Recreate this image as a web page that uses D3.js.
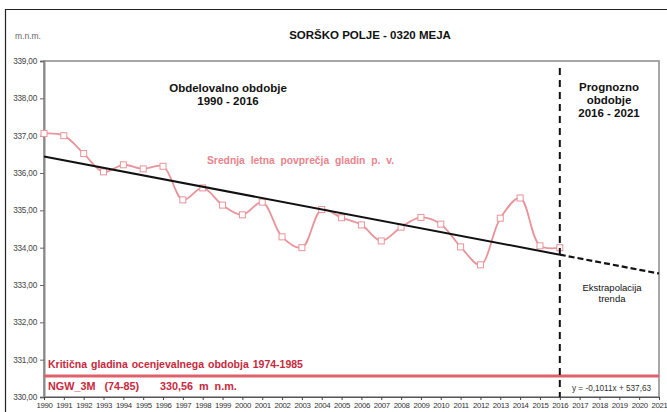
<!DOCTYPE html>
<html><head><meta charset="utf-8">
<script src="https://cdn.jsdelivr.net/npm/d3@7"></script>
<style>
html,body{margin:0;padding:0;background:#fff;}
svg{display:block;font-family:Arial,"Liberation Sans",sans-serif;}
</style></head>
<body>
<svg id="c" width="667" height="412"></svg>
<script>
const years = d3.range(1990, 2017);
const levels = [337.06, 337.00, 336.52, 336.03, 336.22, 336.11, 336.18, 335.28, 335.60, 335.14, 334.88, 335.22, 334.29, 334.00, 335.02, 334.80, 334.61, 334.18, 334.55, 334.81, 334.63, 334.02, 333.54, 334.79, 335.33, 334.05, 334.00];
const yTicks = [330, 331, 332, 333, 334, 335, 336, 337, 338, 339];
const xTickYears = d3.range(1990, 2022);
const trendSlope = -0.1011, trendIntercept = 537.63;
const criticalLevel = 330.56;

const svg = d3.select("#c");
const x = d3.scaleLinear().domain([1990, 2021]).range([44, 659]);
const y = d3.scaleLinear().domain([330, 339]).range([397, 61]);
const fmt = v => d3.format(".2f")(v).replace(".", ",");

// outer frame
svg.append("path").attr("d","M5.5,412 L5.5,9.5 L667,9.5").attr("fill","none").attr("stroke","#222").attr("stroke-width",1.2);

// plot border
svg.append("rect").attr("x",44).attr("y",61).attr("width",615).attr("height",336)
  .attr("fill","none").attr("stroke","#8a8a8a").attr("stroke-width",1.5);

// y axis
const ya = svg.append("g").attr("transform","translate(44,0)")
  .call(d3.axisLeft(y).tickValues(yTicks).tickFormat(fmt).tickSize(4).tickPadding(3));
ya.select(".domain").attr("stroke","#8a8a8a").attr("stroke-width",2);
ya.selectAll(".tick line").attr("stroke","#666");
ya.selectAll("text").attr("font-size",8.2).attr("fill","#444").attr("font-family","Arial, 'Liberation Sans', sans-serif").attr("letter-spacing",-0.2);

// x axis
const xa = svg.append("g").attr("transform","translate(0,397)")
  .call(d3.axisBottom(x).tickValues(xTickYears).tickFormat(d3.format("d")).tickSize(3).tickPadding(2));
xa.select(".domain").attr("stroke","#555").attr("stroke-width",1);
xa.selectAll(".tick line").attr("stroke","#444");
xa.selectAll("text").attr("font-size",7.8).attr("fill","#333").attr("font-family","Arial, 'Liberation Sans', sans-serif").attr("letter-spacing",-0.35);

// critical level
svg.append("line").attr("x1",x(1990)).attr("x2",x(2021)).attr("y1",y(criticalLevel)).attr("y2",y(criticalLevel))
  .attr("stroke","#e0606a").attr("stroke-width",3);
const red = "#c8283c";
svg.append("text").attr("x",48).attr("y",368).attr("font-size",10.5).attr("font-weight","bold").attr("fill",red)
  .attr("word-spacing",1).text("Kritična gladina ocenjevalnega obdobja 1974-1985");
svg.append("text").attr("x",48).attr("y",390).attr("font-size",10.8).attr("font-weight","bold").attr("fill",red)
  .attr("word-spacing",6).text("NGW_3M (74-85)");
svg.append("text").attr("x",160).attr("y",390).attr("font-size",10.8).attr("font-weight","bold").attr("fill",red)
  .attr("word-spacing",3).text("330,56 m n.m.");

// data line
const line = d3.line().x(d => x(d[0])).y(d => y(d[1])).curve(d3.curveCatmullRom.alpha(0.5));
const pts = years.map((yr,i)=>[yr, levels[i]]);
svg.append("path").attr("d", line(pts)).attr("fill","none").attr("stroke","#e8949a").attr("stroke-width",1.8);
svg.selectAll("rect.m").data(pts).enter().append("rect").attr("class","m")
  .attr("x",d=>x(d[0])-3).attr("y",d=>y(d[1])-3).attr("width",6).attr("height",6)
  .attr("fill","#fff").attr("stroke","#e8949a").attr("stroke-width",1);

// trend
const tr = yr => trendSlope*yr + trendIntercept;
svg.append("line").attr("x1",x(1990)).attr("y1",y(tr(1990))).attr("x2",x(2016)).attr("y2",y(tr(2016)))
  .attr("stroke","#111").attr("stroke-width",2);
svg.append("line").attr("x1",x(2016)).attr("y1",y(tr(2016))).attr("x2",x(2021)).attr("y2",y(tr(2021)))
  .attr("stroke","#111").attr("stroke-width",2.2).attr("stroke-dasharray","6,3");

// vertical dashed line at 2016
svg.append("line").attr("x1",x(2016)).attr("x2",x(2016)).attr("y1",68).attr("y2",397)
  .attr("stroke","#111").attr("stroke-width",2).attr("stroke-dasharray","7,5");

// texts
svg.append("text").attr("x",370).attr("y",39).attr("text-anchor","middle").attr("font-size",11.5).attr("font-weight","bold").attr("fill","#111")
  .text("SORŠKO POLJE - 0320 MEJA");
svg.append("text").attr("x",15).attr("y",39).attr("font-size",8.5).attr("fill","#666").text("m.n.m.");
const t1 = svg.append("text").attr("text-anchor","middle").attr("font-size",11.5).attr("font-weight","bold").attr("fill","#111");
t1.append("tspan").attr("x",228).attr("y",92).text("Obdelovalno obdobje");
t1.append("tspan").attr("x",228).attr("y",105).text("1990 - 2016");
const t2 = svg.append("text").attr("text-anchor","middle").attr("font-size",11.5).attr("font-weight","bold").attr("fill","#111");
t2.append("tspan").attr("x",609).attr("y",91).text("Prognozno");
t2.append("tspan").attr("x",609).attr("y",104).text("obdobje");
t2.append("tspan").attr("x",609).attr("y",117).text("2016 - 2021");
svg.append("text").attr("x",207).attr("y",164).attr("font-size",10.3).attr("font-weight","bold").attr("fill","#e8848c")
  .attr("word-spacing",3).text("Srednja letna povprečja gladin p. v.");
const t3 = svg.append("text").attr("text-anchor","middle").attr("font-size",9.5).attr("fill","#111");
t3.append("tspan").attr("x",612).attr("y",291).text("Ekstrapolacija");
t3.append("tspan").attr("x",612).attr("y",302).text("trenda");
svg.append("text").attr("x",572).attr("y",391).attr("font-size",8.2).attr("fill","#333")
  .text("y = -0,1011x + 537,63");
</script>
</body></html>
